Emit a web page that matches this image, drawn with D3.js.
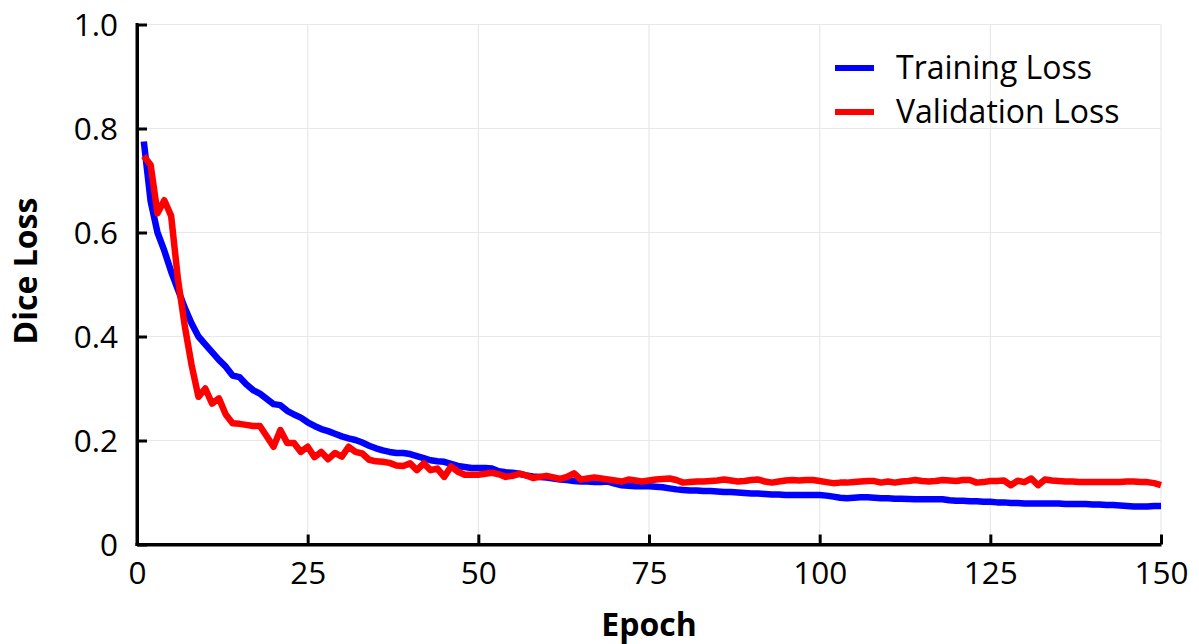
<!DOCTYPE html>
<html>
<head>
<meta charset="utf-8">
<script src="https://cdn.jsdelivr.net/npm/d3@7"></script>
<style>
  html, body { margin: 0; padding: 0; background: #ffffff; }
  svg text { font-family: "Open Sans", "Noto Sans", sans-serif; fill: #000; }
</style>
</head>
<body>
<svg id="chart" width="1199" height="644"></svg>
<script>
const trainingLoss = [
  0.775, 0.66, 0.60, 0.565, 0.525, 0.49, 0.455, 0.425, 0.40, 0.385,
  0.37, 0.355, 0.342, 0.325, 0.322, 0.308, 0.297, 0.29, 0.28, 0.27,
  0.268, 0.257, 0.25, 0.244, 0.235, 0.228, 0.222, 0.218, 0.213, 0.208,
  0.204, 0.201, 0.196, 0.19, 0.185, 0.181, 0.178, 0.176, 0.176, 0.174,
  0.17, 0.166, 0.162, 0.16, 0.159, 0.155, 0.151, 0.149, 0.147, 0.147,
  0.147, 0.146, 0.141, 0.139, 0.138, 0.136, 0.133, 0.131, 0.13, 0.129,
  0.127, 0.125, 0.124, 0.122, 0.121, 0.121, 0.12, 0.12, 0.121, 0.117,
  0.114, 0.113, 0.112, 0.112, 0.112, 0.111, 0.11, 0.108, 0.106, 0.105,
  0.104, 0.104, 0.103, 0.103, 0.102, 0.101, 0.101, 0.1, 0.099, 0.098,
  0.098, 0.097, 0.096, 0.096, 0.095, 0.095, 0.095, 0.095, 0.095, 0.095,
  0.094, 0.092, 0.09, 0.089, 0.09, 0.091, 0.091, 0.09, 0.089, 0.089,
  0.088, 0.088, 0.0875, 0.087, 0.087, 0.087, 0.087, 0.087, 0.085, 0.084,
  0.084, 0.083, 0.083, 0.082, 0.082, 0.081, 0.081, 0.08, 0.08, 0.079,
  0.079, 0.079, 0.079, 0.079, 0.079, 0.078, 0.078, 0.078, 0.078, 0.077,
  0.077, 0.076, 0.076, 0.075, 0.074, 0.073, 0.073, 0.073, 0.074, 0.074
];
const validationLoss = [
  0.747, 0.73, 0.637, 0.662, 0.632, 0.51, 0.42, 0.345, 0.284, 0.30,
  0.271, 0.281, 0.25, 0.233, 0.232, 0.23, 0.228, 0.228, 0.208, 0.188,
  0.22, 0.195, 0.195, 0.178, 0.188, 0.168, 0.178, 0.164, 0.176, 0.169,
  0.188, 0.178, 0.175, 0.163, 0.16, 0.159, 0.157, 0.152, 0.151, 0.156,
  0.143, 0.156, 0.143, 0.146, 0.13, 0.15, 0.14, 0.134, 0.134, 0.134,
  0.136, 0.138, 0.135, 0.13, 0.132, 0.136, 0.133, 0.128, 0.13, 0.132,
  0.129, 0.126, 0.13, 0.137, 0.125, 0.127, 0.129, 0.127, 0.125, 0.123,
  0.121, 0.125, 0.123, 0.121, 0.123, 0.125, 0.126, 0.127, 0.124, 0.119,
  0.12, 0.121, 0.121, 0.122, 0.123, 0.125, 0.123, 0.121, 0.122, 0.124,
  0.125, 0.121, 0.119, 0.121, 0.123, 0.124, 0.123, 0.124, 0.124, 0.122,
  0.12, 0.118, 0.119, 0.119, 0.12, 0.121, 0.122, 0.122, 0.119, 0.121,
  0.119, 0.121, 0.122, 0.124, 0.122, 0.121, 0.122, 0.124, 0.123, 0.122,
  0.124, 0.124, 0.119, 0.12, 0.122, 0.122, 0.123, 0.114, 0.1225, 0.12,
  0.127, 0.114, 0.125, 0.123, 0.122, 0.121, 0.121, 0.12, 0.12, 0.12,
  0.12, 0.12, 0.12, 0.12, 0.121, 0.121, 0.12, 0.12, 0.118, 0.114
];
const epochs = trainingLoss.map((_, i) => i + 1);
const xTicks = [0, 25, 50, 75, 100, 125, 150];
const yTicks = [0, 0.2, 0.4, 0.6, 0.8, 1.0];
const yTickLabels = ["0", "0.2", "0.4", "0.6", "0.8", "1.0"];
const seriesNames = ["Training Loss", "Validation Loss"];
const seriesColors = ["#0000ff", "#ff0000"];

const svg = d3.select("#chart");
const mLeft = 137, mRight = 1161, mTop = 24.5, mBottom = 544.5;
const x = d3.scaleLinear().domain([0, 150]).range([mLeft, mRight]);
const y = d3.scaleLinear().domain([0, 1]).range([mBottom, mTop]);
const fontFam = "'Open Sans', 'Noto Sans', sans-serif";

// grid
const grid = svg.append("g");
grid.selectAll("line.gx").data(xTicks.filter(d => d > 0)).enter().append("line")
  .attr("x1", d => x(d)).attr("x2", d => x(d)).attr("y1", mTop).attr("y2", mBottom)
  .attr("stroke", "#e8e8e8").attr("stroke-width", 1.2);
grid.selectAll("line.gy").data(yTicks.filter(d => d > 0)).enter().append("line")
  .attr("x1", mLeft).attr("x2", mRight).attr("y1", d => y(d)).attr("y2", d => y(d))
  .attr("stroke", "#e8e8e8").attr("stroke-width", 1.2);

// lines
const line = d3.line().x((d, i) => x(epochs[i])).y(d => y(d)).curve(d3.curveLinear);
[trainingLoss, validationLoss].forEach((data, k) => {
  svg.append("path").datum(data)
    .attr("d", line)
    .attr("fill", "none")
    .attr("stroke", seriesColors[k])
    .attr("stroke-width", 6.5)
    .attr("stroke-linejoin", "round")
    .attr("stroke-linecap", "butt");
});

// axes
const xAxis = d3.axisBottom(x).tickValues(xTicks).tickSize(-10).tickPadding(21).tickSizeOuter(0);
const yAxis = d3.axisLeft(y).tickValues(yTicks).tickSize(-10).tickPadding(19).tickSizeOuter(0)
  .tickFormat((d, i) => yTickLabels[i]);

const gx = svg.append("g").attr("transform", `translate(0,${mBottom})`).call(xAxis);
const gy = svg.append("g").attr("transform", `translate(${mLeft},0)`).call(yAxis);
[gx, gy].forEach(g => {
  g.select(".domain").attr("stroke", "#000").attr("stroke-width", 3);
  g.selectAll(".tick line").attr("stroke", "#000").attr("stroke-width", 3);
  g.selectAll(".tick text").style("font-size", "31.5px").style("font-family", fontFam).attr("fill", "#000");
});
gx.selectAll(".tick text").attr("dy", "0.58em");
gy.selectAll(".tick text").attr("dy", "0.35em");
// square corner
svg.append("line").attr("x1", mLeft).attr("x2", mLeft).attr("y1", mTop - 1.5).attr("y2", mBottom + 1.5)
  .attr("stroke", "#000").attr("stroke-width", 3);
svg.append("line").attr("x1", mLeft - 1.5).attr("x2", mRight).attr("y1", mBottom).attr("y2", mBottom)
  .attr("stroke", "#000").attr("stroke-width", 3);

// axis titles
svg.append("text").attr("x", (mLeft + mRight) / 2).attr("y", 636)
  .attr("text-anchor", "middle").style("font-size", "32px").style("font-weight", "bold")
  .text("Epoch");
svg.append("text").attr("transform", "translate(37,271) rotate(-90)")
  .attr("text-anchor", "middle").style("font-size", "32px").style("font-weight", "bold")
  .text("Dice Loss");

// legend
const legend = svg.append("g");
seriesNames.forEach((name, k) => {
  const ly = 68 + k * 44;
  legend.append("line").attr("x1", 835).attr("x2", 874).attr("y1", ly).attr("y2", ly)
    .attr("stroke", seriesColors[k]).attr("stroke-width", 6);
  legend.append("text").attr("x", 896).attr("y", ly).attr("dy", "0.35em")
    .style("font-size", "32px").text(name);
});
</script>
</body>
</html>
